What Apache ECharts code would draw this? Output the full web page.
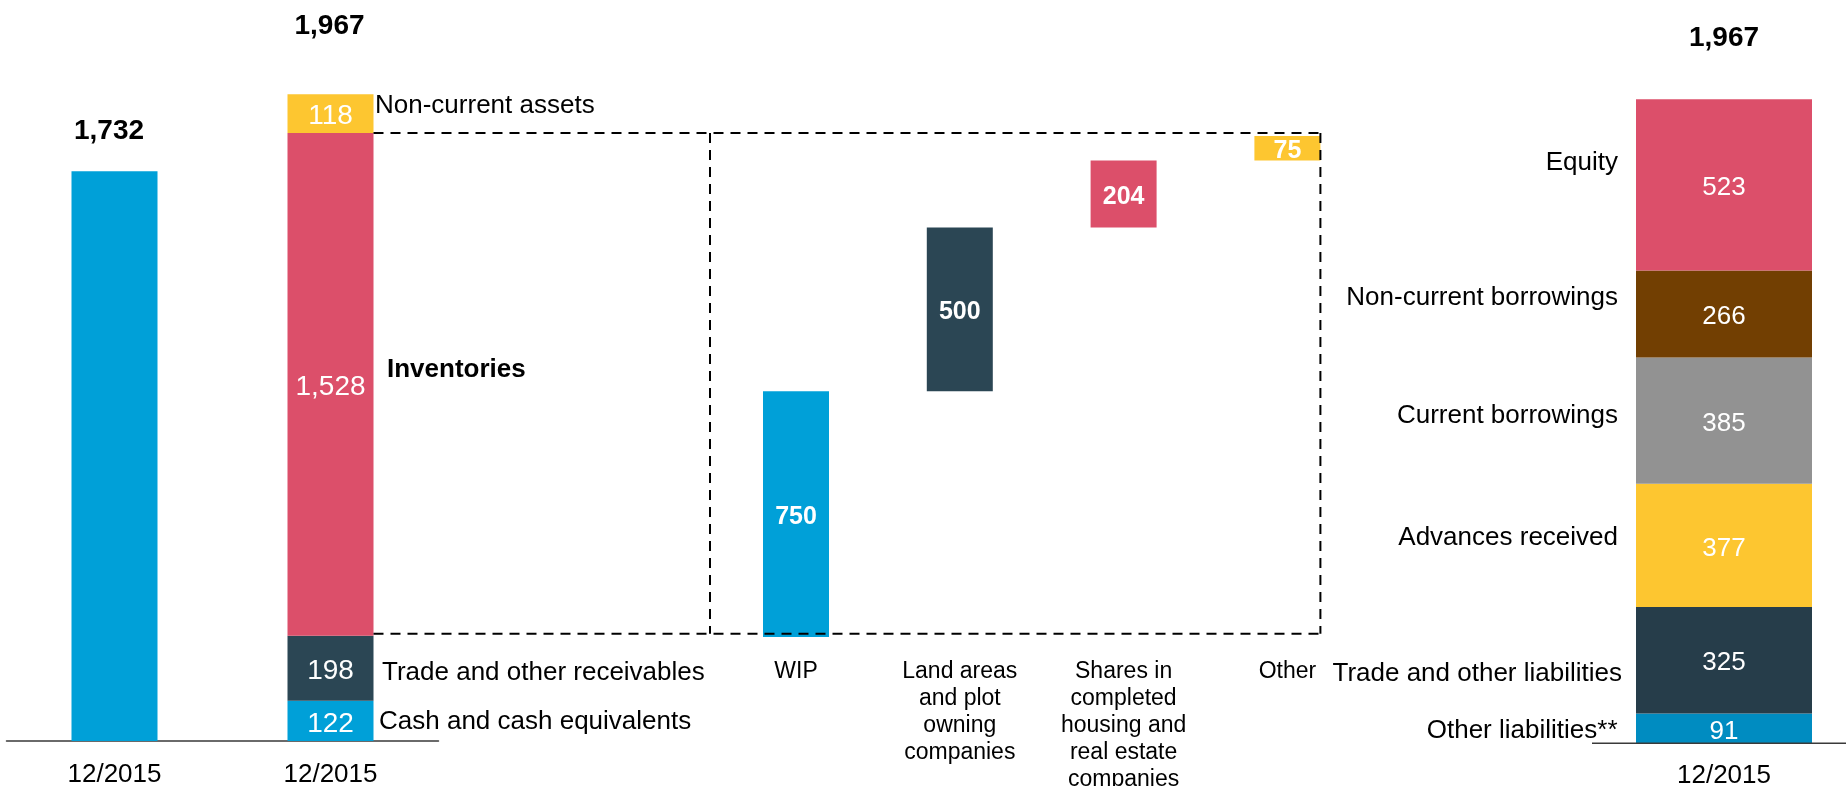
<!DOCTYPE html>
<html>
<head>
<meta charset="utf-8">
<script src="https://cdn.jsdelivr.net/npm/echarts@6/dist/echarts.min.js"></script>
<style>
html,body{margin:0;padding:0;background:#fff;}
#c{width:1846px;height:786px;}
</style>
</head>
<body>
<div id="c"></div>
<script>
// ---------------- DATA ----------------
const leftCategories = ['12/2015', '12/2015'];
const previousTotal = 1732;
const assetNames = ['Cash and cash equivalents', 'Trade and other receivables', 'Inventories', 'Non-current assets'];
const assetValues = [122, 198, 1528, 118];
const assetReportedTotal = 1967;
const inventoryCategories = ['WIP', 'Land areas\nand plot\nowning\ncompanies', 'Shares in\ncompleted\nhousing and\nreal estate\ncompanies', 'Other'];
const inventoryValues = [750, 500, 204, 75];
const liabilityNames = ['Other liabilities**', 'Trade and other liabilities', 'Advances received', 'Current borrowings', 'Non-current borrowings', 'Equity'];
const liabilityValues = [91, 325, 377, 385, 266, 523];
const liabilityReportedTotal = 1967;
const rightCategories = ['12/2015'];

// ---------------- STYLE ----------------
const FONT = '"Liberation Sans", Arial, Helvetica, sans-serif';
const COL = {
  blue: '#00A0D8', blue2: '#008CC1', red: '#DC4F6A', yellow: '#FDC630',
  dark: '#2B4654', dark2: '#263D4A', brown: '#723F02', gray: '#929292'
};
const assetColors = [COL.blue, COL.dark, COL.red, COL.yellow];
const inventoryColors = [COL.blue, COL.dark, COL.red, COL.yellow];
const liabilityColors = [COL.blue2, COL.dark2, COL.yellow, COL.gray, COL.brown, COL.red];
// label placement tweaks (pixel offsets from segment middles)
const assetLabelStyle = [
  {dx: 48.5, dy: 1, bold: false},
  {dx: 51.5, dy: 4.5, bold: false},
  {dx: 56.5, dy: -15, bold: true},
  {dx: 44.5, dy: -7.5, bold: false}
];
const liabilityLabelStyle = [
  {dx: -106.5, dy: 2.5}, {dx: -102, dy: 14}, {dx: -106, dy: -8},
  {dx: -106, dy: -4.5}, {dx: -106, dy: -16.5}, {dx: -106, dy: -22.5}
];
const insideShift = 3;

// ---------------- DERIVED ----------------
const sum = a => a.reduce((s, v) => s + v, 0);
const fmt = v => Number(v).toLocaleString('en-US');
const inventoryStart = assetValues[0] + assetValues[1];
const inventoryBases = inventoryValues.map((v, i) => inventoryStart + sum(inventoryValues.slice(0, i)));
const mid = (arr, i) => sum(arr.slice(0, i)) + arr[i] / 2;
const liabilityTop = sum(liabilityValues);

const series = [];

// Grid 0: left two bars
series.push({
  type: 'bar', xAxisIndex: 0, yAxisIndex: 0, stack: 'L', barWidth: 86, silent: true,
  data: [previousTotal, '-'], itemStyle: {color: COL.blue}
});
assetValues.forEach((v, i) => {
  series.push({
    type: 'bar', xAxisIndex: 0, yAxisIndex: 0, stack: 'L', barWidth: 86, silent: true,
    data: ['-', v], itemStyle: {color: assetColors[i]},
    label: {show: true, position: 'inside', color: '#fff', fontSize: 28, fontFamily: FONT,
      textBorderWidth: 0, offset: [0, insideShift], formatter: p => fmt(p.value)}
  });
});
const txt = (extra) => Object.assign({show: true, position: 'inside', color: '#000', fontFamily: FONT,
  verticalAlign: 'middle', textBorderWidth: 0, textBorderColor: 'transparent'}, extra);
series.push({
  type: 'scatter', xAxisIndex: 0, yAxisIndex: 0, symbolSize: 0, silent: true, z: 10,
  itemStyle: {opacity: 1},
  label: txt({}),
  data: [
    {value: [0, previousTotal], label: txt({formatter: fmt(previousTotal), align: 'center', offset: [-5.5, -40], fontSize: 28, fontWeight: 'bold'})},
    {value: [1, sum(assetValues)], label: txt({formatter: fmt(assetReportedTotal), align: 'center', offset: [-1, -68], fontSize: 28, fontWeight: 'bold'})}
  ].concat(assetNames.map((n, i) => ({
    value: [1, mid(assetValues, i)],
    label: txt({formatter: n, align: 'left', offset: [assetLabelStyle[i].dx, assetLabelStyle[i].dy],
      fontSize: 26, fontWeight: assetLabelStyle[i].bold ? 'bold' : 'normal'})
  })))
});

// Grid 1: inventory waterfall
series.push({
  type: 'bar', xAxisIndex: 1, yAxisIndex: 1, stack: 'W', barWidth: 66, silent: true,
  data: inventoryBases, itemStyle: {color: 'rgba(0,0,0,0)'}
});
series.push({
  type: 'bar', xAxisIndex: 1, yAxisIndex: 1, stack: 'W', barWidth: 66, silent: true,
  data: inventoryValues.map((v, i) => ({value: v, itemStyle: {color: inventoryColors[i]}})),
  label: {show: true, position: 'inside', color: '#fff', fontSize: 25, fontWeight: 'bold', fontFamily: FONT,
    textBorderWidth: 0, offset: [0, insideShift]}
});

// Grid 2: liabilities
liabilityValues.forEach((v, i) => {
  series.push({
    type: 'bar', xAxisIndex: 2, yAxisIndex: 2, stack: 'R', barWidth: 176, silent: true,
    data: [v], itemStyle: {color: liabilityColors[i]},
    label: {show: true, position: 'inside', color: '#fff', fontSize: 26, fontFamily: FONT,
      textBorderWidth: 0, offset: [0, insideShift], formatter: p => fmt(p.value)}
  });
});
series.push({
  type: 'scatter', xAxisIndex: 2, yAxisIndex: 2, symbolSize: 0, silent: true, z: 10,
  itemStyle: {opacity: 1},
  label: txt({fontSize: 26}),
  data: [
    {value: [0, liabilityTop], label: txt({formatter: fmt(liabilityReportedTotal), align: 'center', offset: [0, -61], fontSize: 28, fontWeight: 'bold'})}
  ].concat(liabilityNames.map((n, i) => ({
    value: [0, mid(liabilityValues, i)],
    label: txt({formatter: n, align: 'right', fontSize: 26, offset: [liabilityLabelStyle[i].dx, liabilityLabelStyle[i].dy]})
  })))
});

const axisLineStyle = {show: true, lineStyle: {color: '#3a3a3a', width: 1.5}};
const gridBase = {containLabel: false, outerBoundsMode: 'none'};
const option = {
  animation: false,
  backgroundColor: '#fff',
  grid: [
    Object.assign({left: 6.5, width: 432, top: 83, height: 658}, gridBase),
    Object.assign({left: 714.1, width: 655.2, top: 86.5, height: 557.1}, gridBase),
    Object.assign({left: 1604, width: 240, top: 88.5, height: 654.8}, gridBase)
  ],
  xAxis: [
    {type: 'category', gridIndex: 0, data: leftCategories, axisLine: axisLineStyle, axisTick: {show: false},
      axisLabel: {interval: 0, color: '#000', fontSize: 26, fontFamily: FONT, margin: 21}},
    {type: 'category', gridIndex: 1, data: inventoryCategories, axisLine: {show: false}, axisTick: {show: false},
      axisLabel: {interval: 0, color: '#000', fontSize: 23, lineHeight: 27, fontFamily: FONT, margin: 14.5, align: 'center'}},
    {type: 'category', gridIndex: 2, data: rightCategories, axisLine: {show: false}, axisTick: {show: false},
      axisLabel: {interval: 0, color: '#000', fontSize: 26, fontFamily: FONT, margin: 20}}
  ],
  yAxis: [
    {type: 'value', gridIndex: 0, min: 0, max: 2000, show: false, splitLine: {show: false}},
    {type: 'value', gridIndex: 1, min: 300, max: 2000, show: false, splitLine: {show: false}},
    {type: 'value', gridIndex: 2, min: 0, max: 2000, show: false, splitLine: {show: false}}
  ],
  series: series
};

const chart = echarts.init(document.getElementById('c'), null, {renderer: 'canvas'});
chart.setOption(option);

// dashed box around the inventory breakdown, positioned through the axes
const px = (ai, pt) => chart.convertToPixel({xAxisIndex: ai, yAxisIndex: ai}, pt);
const invTop = inventoryStart + assetValues[2];
const [barX, yTop] = px(0, [1, invTop]);
const [, yBot0] = px(0, [1, inventoryStart]);
const yBot = yBot0 - 2;
const [wipX] = px(1, [0, inventoryStart]);
const [othX] = px(1, [inventoryValues.length - 1, inventoryStart]);
const xStart = barX + 43;
const xL = wipX - 86;
const xR = othX + 33;
const dashStyle = {stroke: '#000', lineWidth: 2, lineDash: [10, 7]};
const seg = (x1, y1, x2, y2) => ({type: 'line', silent: true, z: 100, shape: {x1, y1, x2, y2}, style: dashStyle});
// baseline under the liabilities bar
const [rx, ry] = px(2, [0, 0]);
chart.setOption({
  graphic: [
    seg(xStart, yTop, xR, yTop),
    seg(xStart, yBot, xR, yBot),
    seg(xL, yTop, xL, yBot),
    seg(xR, yTop, xR, yBot),
    {type: 'line', silent: true, z: 50, shape: {x1: rx - 132, y1: ry, x2: 1846, y2: ry},
      style: {stroke: '#3a3a3a', lineWidth: 1.5}}
  ]
});
</script>
</body>
</html>
